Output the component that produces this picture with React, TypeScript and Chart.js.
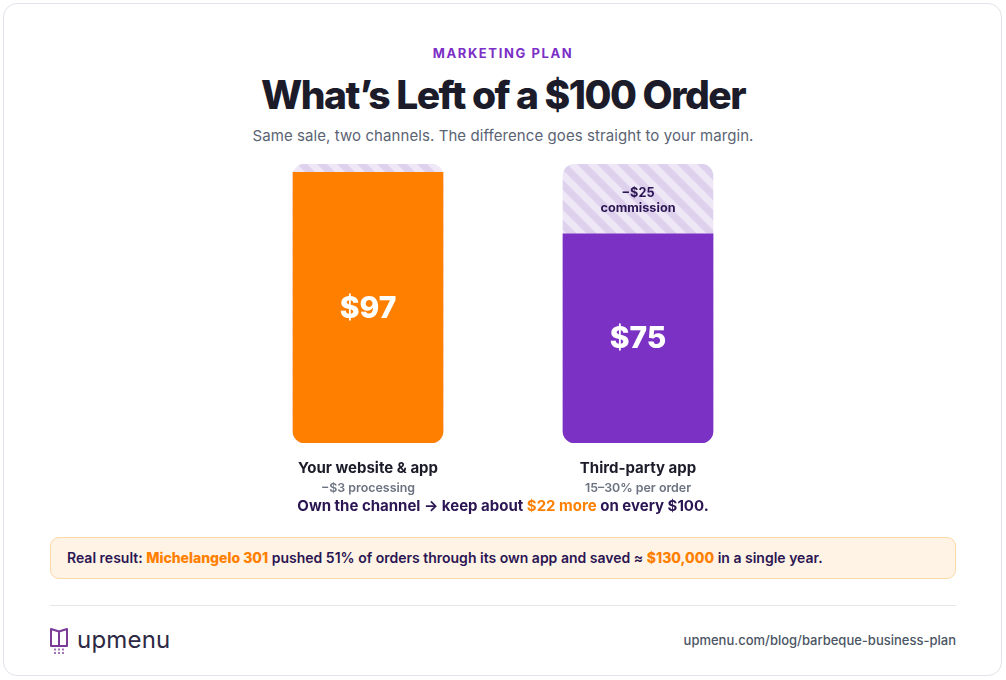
import React, { useEffect, useRef } from "react";
import { Chart, registerables } from "chart.js";

Chart.register(...registerables);

const categories = ["Your website & app", "Third-party app"];
const subLabels = ["−$3 processing", "15–30% per order"];
const keptValues = [97, 75];
const feeValues = [3, 25];
const valueLabels = ["$97", "$75"];
const feeLabels = [["", ""], ["−$25", "commission"]];

const ORANGE = "#ff7f00";
const PURPLE = "#7b31c3";
const DARK = "#1c1b29";
const DEEP = "#2b1653";
const FONT = "Inter, 'Noto Sans', sans-serif";

function makeStripes(): CanvasPattern | string {
  const t = document.createElement("canvas");
  t.width = 20;
  t.height = 20;
  const c = t.getContext("2d");
  if (!c) return "#e6def3";
  c.fillStyle = "#ede7f6";
  c.fillRect(0, 0, 20, 20);
  c.fillStyle = "#ddd1ee";
  for (let k = -2; k <= 2; k++) {
    c.beginPath();
    c.moveTo(20 * k, 0);
    c.lineTo(20 * k + 10, 0);
    c.lineTo(20 * k + 30, 20);
    c.lineTo(20 * k + 20, 20);
    c.closePath();
    c.fill();
  }
  const p = c.createPattern(t, "repeat");
  return p || "#e6def3";
}

const labelPlugin = {
  id: "barLabels",
  afterDatasetsDraw(chart: any) {
    const ctx = chart.ctx;
    const x = chart.scales.x;
    const y = chart.scales.y;
    ctx.save();
    ctx.textAlign = "center";
    ctx.textBaseline = "middle";
    categories.forEach((cat, i) => {
      const cx = x.getPixelForValue(i);
      const yTop = y.getPixelForValue(keptValues[i]);
      const yBot = y.getPixelForValue(0);
      const yFull = y.getPixelForValue(keptValues[i] + feeValues[i]);
      ctx.fillStyle = "#ffffff";
      ctx.font = `800 30px ${FONT}`;
      ctx.fillText(valueLabels[i], cx, (yTop + yBot) / 2 + 1);
      const fl = feeLabels[i];
      if (fl[0]) {
        const mid = (yFull + yTop) / 2;
        ctx.fillStyle = DEEP;
        ctx.font = `700 12.7px ${FONT}`;
        ctx.fillText(fl[0], cx, mid - 6);
        ctx.fillText(fl[1], cx, mid + 9);
      }
      ctx.fillStyle = DARK;
      ctx.font = `700 15px ${FONT}`;
      ctx.fillText(cat, cx, yBot + 25);
      ctx.fillStyle = "#6b7280";
      ctx.font = `600 12.4px ${FONT}`;
      ctx.fillText(subLabels[i], cx, yBot + 45);
    });
    ctx.restore();
  },
};

function BarChart() {
  const ref = useRef<HTMLCanvasElement>(null);
  useEffect(() => {
    if (!ref.current) return;
    const stripes = makeStripes();
    const totals = keptValues.map((v, i) => v + feeValues[i]);
    const chart = new Chart(ref.current, {
      type: "bar",
      data: {
        labels: categories,
        datasets: [
          {
            label: "Kept",
            data: keptValues,
            backgroundColor: [ORANGE, PURPLE],
            borderRadius: { topLeft: 0, topRight: 0, bottomLeft: 12, bottomRight: 12 },
            borderSkipped: false,
            barThickness: 150,
            grouped: false,
            order: 1,
          },
          {
            label: "Fees",
            data: totals,
            backgroundColor: stripes as any,
            borderRadius: 12,
            borderSkipped: false,
            barThickness: 150,
            grouped: false,
            order: 2,
          },
        ],
      },
      options: {
        responsive: false,
        animation: false,
        devicePixelRatio: 1,
        layout: { padding: { left: 50, right: 50, top: 14, bottom: 57 } },
        plugins: { legend: { display: false }, tooltip: { enabled: false } },
        scales: {
          x: { display: false },
          y: { display: false, min: 0, max: 100 },
        },
      },
      plugins: [labelPlugin],
    });
    return () => chart.destroy();
  }, []);
  return (
    <canvas
      ref={ref}
      width={640}
      height={350}
      style={{ position: "absolute", left: 183, top: 150, width: 640, height: 350 }}
    />
  );
}

export default function App() {
  useEffect(() => {
    document.body.style.margin = "0";
  }, []);
  const center: React.CSSProperties = {
    position: "absolute",
    left: 0,
    width: 1006,
    textAlign: "center",
    whiteSpace: "nowrap",
  };
  return (
    <div style={{ position: "relative", width: 1006, height: 680, fontFamily: FONT, background: "#fff", overflow: "hidden" }}>
      <div
        style={{
          position: "absolute",
          left: 3,
          top: 3,
          width: 997,
          height: 671,
          border: "1px solid #e2e2ea",
          borderRadius: 14,
          background: "#fff",
        }}
      />
      <div style={{ ...center, top: 44, fontSize: 13, fontWeight: 700, letterSpacing: 1.6, color: "#7b2fc6", lineHeight: "18px" }}>
        MARKETING PLAN
      </div>
      <div style={{ ...center, top: 71, fontSize: 39, fontWeight: 800, letterSpacing: -1.5, color: DARK, lineHeight: "48px" }}>
        What’s Left of a $100 Order
      </div>
      <div style={{ ...center, top: 126, fontSize: 15, fontWeight: 400, letterSpacing: 0.08, color: "#5b6373", lineHeight: "20px" }}>
        Same sale, two channels. The difference goes straight to your margin.
      </div>
      <BarChart />
      <div style={{ ...center, top: 496, fontSize: 15, fontWeight: 700, color: DEEP, lineHeight: "20px" }}>
        Own the channel → keep about <span style={{ color: ORANGE }}>$22 more</span> on every $100.
      </div>
      <div
        style={{
          position: "absolute",
          left: 50,
          top: 537,
          width: 904,
          height: 40,
          border: "1px solid #fdd9a6",
          borderRadius: 9,
          background: "#fff3e5",
        }}
      />
      <div style={{ position: "absolute", left: 67, top: 548, fontSize: 14, fontWeight: 600, color: DEEP, lineHeight: "20px", whiteSpace: "nowrap" }}>
        Real result: <span style={{ color: ORANGE, fontWeight: 800 }}>Michelangelo 301</span> pushed 51% of orders through its own app and saved ≈{" "}
        <span style={{ color: ORANGE, fontWeight: 800 }}>$130,000</span> in a single year.
      </div>
      <div style={{ position: "absolute", left: 50, top: 605, width: 906, height: 1, background: "#e5e7eb" }} />
      <svg style={{ position: "absolute", left: 49, top: 626 }} width={22} height={30} viewBox="0 0 22 30">
        <path
          d="M2 3 L10 5.5 L18 3 L18 20 L2 20 Z M10 5.5 L10 20"
          fill="none"
          stroke="#7b3a98"
          strokeWidth={2}
          strokeLinejoin="round"
        />
        <path d="M6 22.5 V29 M10 22.5 V29 M14 22.5 V29" stroke="#7b3a98" strokeWidth={1.4} strokeDasharray="2 1.5" />
      </svg>
      <div style={{ position: "absolute", left: 77, top: 624, fontSize: 24, fontWeight: 400, color: "#2c2944", lineHeight: "32px", letterSpacing: 0.2 }}>
        upmenu
      </div>
      <div style={{ position: "absolute", right: 50, top: 631, fontSize: 13, fontWeight: 500, color: "#4b5563", lineHeight: "18px" }}>
        upmenu.com/blog/barbeque-business-plan
      </div>
    </div>
  );
}
